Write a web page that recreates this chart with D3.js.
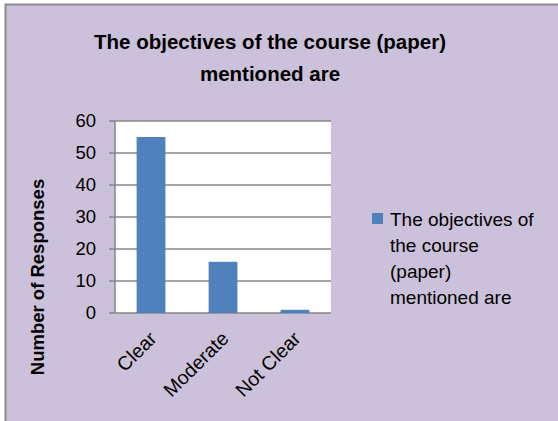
<!DOCTYPE html>
<html>
<head>
<meta charset="utf-8">
<script src="https://cdn.jsdelivr.net/npm/d3@7"></script>
<style>
  body { margin: 0; background: #fff; }
  text { font-family: "Liberation Sans", Arial, sans-serif; fill: #000; }
</style>
</head>
<body>
<div id="chart"></div>
<script>
// chart data
var categories = ["Clear", "Moderate", "Not Clear"];
var responses = [55, 16, 1];
var yTicks = [0, 10, 20, 30, 40, 50, 60];
var chartTitle = ["The objectives of the course (paper)", "mentioned are"];
var legendLines = ["The objectives of", "the course", "(paper)", "mentioned are"];
var yTitle = "Number of Responses";

var width = 558, height = 421;

var svg = d3.select("#chart")
    .append("svg")
    .attr("width", width)
    .attr("height", height);

// chart frame (runs off the right and bottom edge)
svg.append("rect")
    .attr("x", 5.5).attr("y", 4.5)
    .attr("width", 600).attr("height", 500)
    .attr("fill", "#CCC1DA")
    .attr("stroke", "#8c8c8c")
    .attr("stroke-width", 2);

// plot area
var plot = {left: 115, top: 121, right: 331, bottom: 313};

var x = d3.scaleBand()
    .domain(categories)
    .range([plot.left, plot.right])
    .paddingInner(0.6)
    .paddingOuter(0.3);

var y = d3.scaleLinear()
    .domain([0, 60])
    .range([plot.bottom, plot.top]);

svg.append("rect")
    .attr("x", plot.left).attr("y", plot.top)
    .attr("width", plot.right - plot.left)
    .attr("height", plot.bottom - plot.top)
    .attr("fill", "#fff");

// gridlines
svg.append("g")
    .selectAll("line")
    .data(yTicks)
    .enter()
    .append("line")
    .attr("x1", plot.left - 6)
    .attr("x2", plot.right)
    .attr("y1", function(d) { return y(d); })
    .attr("y2", function(d) { return y(d); })
    .attr("stroke", "#868686")
    .attr("stroke-width", 1.5);

// bars
svg.append("g")
    .selectAll("rect")
    .data(responses)
    .enter()
    .append("rect")
    .attr("x", function(d, i) { return x(categories[i]); })
    .attr("width", x.bandwidth())
    .attr("y", function(d) { return y(d); })
    .attr("height", function(d) { return y(0) - y(d); })
    .attr("fill", "#4F81BD");

// y axis line
svg.append("line")
    .attr("x1", plot.left).attr("x2", plot.left)
    .attr("y1", plot.top).attr("y2", plot.bottom)
    .attr("stroke", "#868686")
    .attr("stroke-width", 1.5);

// y tick labels
svg.append("g")
    .selectAll("text")
    .data(yTicks)
    .enter()
    .append("text")
    .attr("x", 96)
    .attr("y", function(d) { return y(d); })
    .attr("dy", "0.35em")
    .attr("text-anchor", "end")
    .style("font-size", "18.5px")
    .text(function(d) { return d; });

// x labels, rotated
svg.append("g")
    .selectAll("text")
    .data(categories)
    .enter()
    .append("text")
    .attr("transform", function(d) {
        var cx = x(d) + x.bandwidth() / 2 + 2;
        return "translate(" + cx + "," + (plot.bottom + 22) + ") rotate(-45)";
    })
    .attr("text-anchor", "end")
    .attr("dy", "0.35em")
    .style("font-size", "19.5px")
    .text(function(d) { return d; });

// y axis title
svg.append("text")
    .attr("transform", "translate(43.5,277) rotate(-90)")
    .attr("text-anchor", "middle")
    .style("font-size", "18.5px")
    .style("font-weight", "bold")
    .text(yTitle);

// title
svg.append("g")
    .selectAll("text")
    .data(chartTitle)
    .enter()
    .append("text")
    .attr("x", 270)
    .attr("y", function(d, i) { return 49 + i * 32; })
    .attr("text-anchor", "middle")
    .style("font-size", "20.5px")
    .style("font-weight", "bold")
    .text(function(d) { return d; });

// legend
var legend = svg.append("g");
legend.append("rect")
    .attr("x", 372).attr("y", 213)
    .attr("width", 11).attr("height", 11)
    .attr("fill", "#4F81BD");
legend.selectAll("text")
    .data(legendLines)
    .enter()
    .append("text")
    .attr("x", 390)
    .attr("y", function(d, i) { return 225.5 + i * 26; })
    .style("font-size", "19px")
    .text(function(d) { return d; });
</script>
</body>
</html>
